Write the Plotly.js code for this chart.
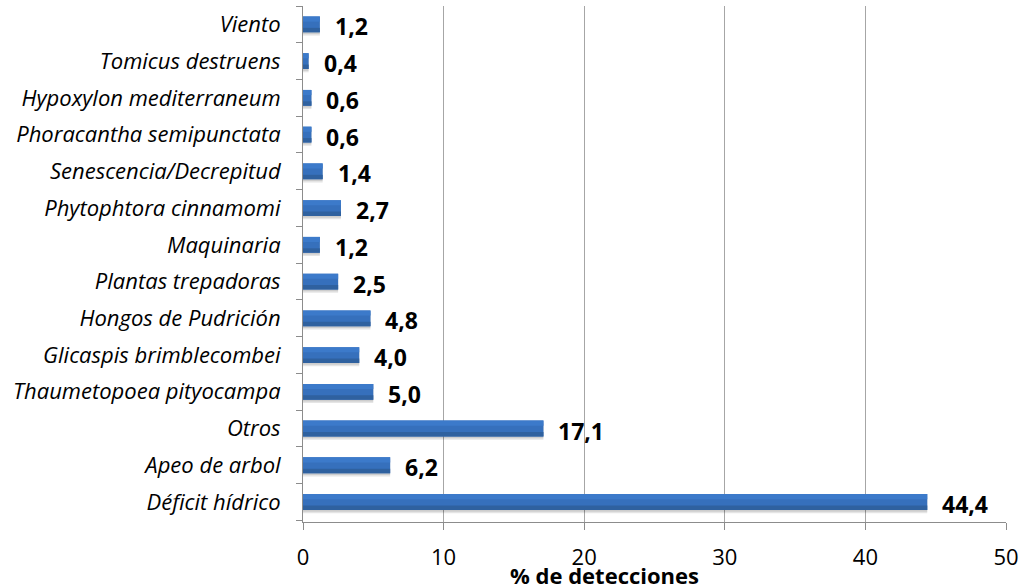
<!DOCTYPE html>
<html>
<head>
<meta charset="utf-8">
<script src="https://cdn.plot.ly/plotly-3.0.1.min.js"></script>
<style>html,body{margin:0;padding:0;background:#fff;}#chart{width:1026px;height:586px;}</style>
</head>
<body>
<div id="chart"></div>
<script>
const categories = [
  "Déficit hídrico", "Apeo de arbol", "Otros", "Thaumetopoea pityocampa",
  "Glicaspis brimblecombei", "Hongos de Pudrición", "Plantas trepadoras",
  "Maquinaria", "Phytophtora cinnamomi", "Senescencia/Decrepitud",
  "Phoracantha semipunctata", "Hypoxylon mediterraneum", "Tomicus destruens", "Viento"
];
const values = [44.4, 6.2, 17.1, 5.0, 4.0, 4.8, 2.5, 1.2, 2.7, 1.4, 0.6, 0.6, 0.4, 1.2];
const valueLabels = values.map(v => v.toFixed(1).replace('.', ','));
const xTicks = [0, 10, 20, 30, 40, 50];
const xTitle = "% de detecciones";

const FONT = "'Open Sans', Lato, sans-serif";
const BW = 0.43;

function barLayer(color, offset, width) {
  return {
    type: 'bar', orientation: 'h', x: values, y: categories,
    width: width, offset: offset,
    marker: {color: color, line: {width: 0}},
    hoverinfo: 'skip'
  };
}

const traces = [
  // soft shadow
  barLayer('rgba(0,0,0,0.10)', -BW / 2 - 0.09, BW),
  barLayer('rgba(0,0,0,0.10)', -BW / 2 - 0.05, BW),
  // main bar, with gradient bands
  barLayer('#3670BC', -BW / 2, BW),
  barLayer('#2F619F', -BW / 2, 0.12),
  barLayer('#3C7ACA', BW / 2 - 0.14, 0.14)
];

const W = 1026, H = 586, L = 303, R = 20, T = 6, B = 64;

const annotations = values.map((v, i) => ({
  x: v, y: categories[i], xref: 'x', yref: 'y',
  text: '<b>' + valueLabels[i] + '</b>',
  showarrow: false, xanchor: 'left', yanchor: 'middle',
  xshift: 13, yshift: -2,
  font: {family: FONT, size: 23, color: '#000'}
}));
annotations.push({
  x: (604 - L) / (W - L - R), y: (H - B - 575) / (H - T - B),
  xref: 'paper', yref: 'paper', text: '<b>' + xTitle + '</b>',
  showarrow: false, xanchor: 'center', yanchor: 'middle',
  font: {family: FONT, size: 22, color: '#000'}
});

const layout = {
  width: W, height: H,
  margin: {l: L, r: R, t: T, b: B, pad: 0},
  paper_bgcolor: '#fff', plot_bgcolor: '#fff',
  showlegend: false,
  barmode: 'overlay',
  xaxis: {
    range: [0, 50], tickvals: xTicks, ticktext: xTicks.map(String),
    showgrid: true, gridcolor: '#a6a6a6', gridwidth: 1,
    zeroline: false, showline: true, linecolor: '#8c8c8c', linewidth: 1,
    ticks: 'outside', ticklen: 7, tickcolor: '#8c8c8c',
    ticklabelstandoff: 9,
    tickfont: {family: FONT, size: 22, color: '#000'},
    fixedrange: true
  },
  yaxis: {
    type: 'category', categoryorder: 'array', categoryarray: categories,
    showline: true, linecolor: '#8c8c8c', linewidth: 1,
    ticks: 'outside', ticklen: 6, tickcolor: '#8c8c8c', tickson: 'boundaries',
    ticklabelstandoff: 17,
    showgrid: false, zeroline: false,
    tickfont: {family: FONT, size: 22, color: '#000', style: 'italic'},
    fixedrange: true
  },
  annotations: annotations
};

Plotly.newPlot('chart', traces, layout, {displayModeBar: false, staticPlot: true});
</script>
</body>
</html>
